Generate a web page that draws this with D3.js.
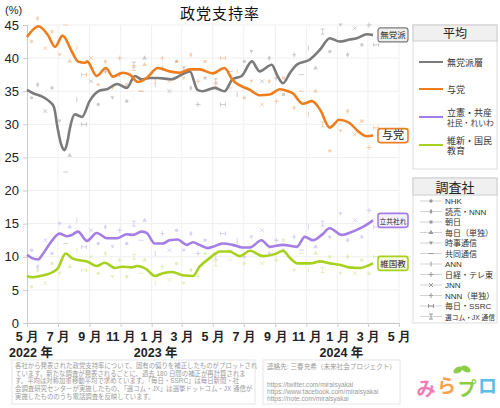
<!DOCTYPE html>
<html>
<head>
<meta charset="utf-8">
<script src="https://cdn.jsdelivr.net/npm/d3@7"></script>
<style>
  body { margin: 0; background: #fff; }
  svg { font-family: "Liberation Sans", Arial, "Noto Sans CJK JP", sans-serif; }
</style>
</head>
<body>
<script>
// ---- data ----
const yTicks = [0, 5, 10, 15, 20, 25, 30, 35, 40, 45];
const xTickDates = ["2022-05-01", "2022-07-01", "2022-09-01", "2022-11-01", "2023-01-01", "2023-03-01",
  "2023-05-01", "2023-07-01", "2023-09-01", "2023-11-01", "2024-01-01", "2024-03-01", "2024-05-01"];
const xTickLabels = ["5 月", "7 月", "9 月", "11 月", "1 月", "3 月", "5 月", "7 月", "9 月", "11 月", "1 月", "3 月", "5 月"];
const yearDates = ["2022-05-01", "2023-01-01", "2024-01-01"];
const yearLabels = ["2022 年", "2023 年", "2024 年"];

const seriesNames = ["無党派層", "与党", "立憲・共産\n社民・れいわ", "維新・国民\n教育"];
const seriesTags = ["無党派", "与党", "立共社れ", "維国教"];

// averaged lines: [date, value]
const mutouha = [["2022-05-01",35.2],["2022-05-13",34.7],["2022-05-31",34.2],["2022-06-15",33.4],["2022-06-23",32.6],
  ["2022-06-30",29.5],["2022-07-07",27.0],["2022-07-14",26.1],["2022-07-20",27.6],["2022-07-24",29.3],["2022-08-03",31.5],
  ["2022-08-17",31.1],["2022-09-01",33.5],["2022-09-21",35.1],["2022-10-05",35.3],["2022-10-25",36.1],["2022-11-13",35.5],
  ["2022-11-29",37.3],["2022-12-12",36.8],["2022-12-28",37.0],["2023-01-13",37.0],["2023-02-09",36.8],["2023-03-01",37.5],
  ["2023-03-17",38.0],["2023-04-01",35.2],["2023-04-11",35.0],["2023-05-05",35.5],["2023-05-24",35.0],["2023-06-09",36.8],
  ["2023-06-27",37.3],["2023-07-17",39.5],["2023-08-01",38.0],["2023-08-25",39.0],["2023-09-04",37.5],["2023-09-16",36.2],
  ["2023-09-30",37.8],["2023-10-13",39.0],["2023-11-08",39.8],["2023-11-28",41.3],["2023-12-17",43.0],["2024-01-05",42.5],
  ["2024-01-25",42.8],["2024-02-08",43.0],["2024-02-28",43.6],["2024-03-11",43.5]];
const yotou = [["2022-05-01",43.2],["2022-05-13",44.3],["2022-05-23",44.8],["2022-06-11",43.5],["2022-06-25",41.7],
  ["2022-07-10",43.4],["2022-07-28",41.0],["2022-08-09",39.5],["2022-08-23",39.3],["2022-08-27",39.5],["2022-09-15",37.3],
  ["2022-10-03",38.5],["2022-10-17",37.2],["2022-11-05",37.8],["2022-11-19",37.5],["2022-12-05",36.4],["2022-12-22",37.0],
  ["2023-01-13",38.5],["2023-02-05",38.0],["2023-02-25",37.8],["2023-03-17",38.3],["2023-04-05",38.3],["2023-05-01",37.7],
  ["2023-05-24",38.5],["2023-06-09",36.7],["2023-07-13",35.2],["2023-08-01",34.4],["2023-08-21",34.5],["2023-09-10",35.3],
  ["2023-09-26",35.0],["2023-10-05",34.7],["2023-10-25",33.1],["2023-11-12",33.5],["2023-11-28",32.2],["2023-12-17",29.5],
  ["2024-01-05",30.7],["2024-01-25",30.2],["2024-02-10",29.0],["2024-02-28",28.2],["2024-03-11",28.3]];
const rikken = [["2022-05-01",10.3],["2022-05-11",9.8],["2022-05-23",9.6],["2022-05-31",10.3],["2022-06-15",12.0],
  ["2022-07-04",13.5],["2022-07-18",13.1],["2022-07-28",13.3],["2022-08-09",13.8],["2022-08-27",12.4],["2022-09-15",13.6],
  ["2022-10-05",12.8],["2022-10-25",12.8],["2022-11-13",13.4],["2022-11-25",13.3],["2022-12-12",13.8],["2022-12-22",13.6],
  ["2023-01-07",12.0],["2023-01-23",12.0],["2023-02-05",12.5],["2023-02-21",12.6],["2023-03-11",11.8],["2023-03-23",12.2],
  ["2023-04-05",11.8],["2023-04-21",11.3],["2023-05-01",11.5],["2023-05-21",12.0],["2023-06-09",11.8],["2023-06-29",11.4],
  ["2023-07-13",11.4],["2023-08-05",12.5],["2023-08-21",11.5],["2023-09-16",11.8],["2023-10-13",11.5],["2023-10-29",13.0],
  ["2023-11-14",12.5],["2023-12-01",13.3],["2023-12-17",14.3],["2024-01-09",13.3],["2024-01-31",13.8],["2024-02-20",14.5],
  ["2024-03-11",15.5]];
const ishin = [["2022-05-01",7.1],["2022-05-11",6.9],["2022-05-27",7.1],["2022-06-21",7.7],["2022-06-30",8.2],
  ["2022-07-16",10.5],["2022-07-28",9.8],["2022-08-09",9.5],["2022-08-27",9.3],["2022-09-15",8.6],["2022-10-01",9.1],
  ["2022-10-21",8.3],["2022-11-03",8.5],["2022-11-23",8.4],["2022-12-03",8.6],["2022-12-22",8.1],["2023-01-07",7.1],
  ["2023-01-23",7.5],["2023-02-11",7.7],["2023-03-03",7.2],["2023-03-23",7.1],["2023-04-05",8.5],["2023-04-25",9.8],
  ["2023-05-15",10.8],["2023-06-03",10.8],["2023-06-23",10.1],["2023-07-13",10.9],["2023-08-07",10.1],["2023-08-31",10.4],
  ["2023-09-16",10.9],["2023-09-30",9.8],["2023-10-15",9.0],["2023-11-08",9.0],["2023-11-28",9.3],["2023-12-17",9.0],
  ["2024-01-05",8.8],["2024-01-25",8.4],["2024-02-14",8.3],["2024-03-05",8.8],["2024-03-11",9.0]];
const averages = [mutouha, yotou, rikken, ishin];

// individual surveys (bias corrected): date, company index, value per series
const surveyDates = ["2022-05-10","2022-05-22","2022-06-06","2022-06-19","2022-07-04","2022-07-16","2022-07-24","2022-08-07",
  "2022-08-21","2022-09-04","2022-09-18","2022-10-02","2022-10-16","2022-10-30","2022-11-13","2022-11-27","2022-12-11",
  "2022-12-18","2023-01-08","2023-01-22","2023-02-05","2023-02-19","2023-03-05","2023-03-19","2023-04-02","2023-04-16",
  "2023-05-07","2023-05-21","2023-06-04","2023-06-18","2023-07-02","2023-07-16","2023-08-06","2023-08-20","2023-09-03",
  "2023-09-17","2023-10-08","2023-10-22","2023-11-05","2023-11-19","2023-12-03","2023-12-17","2024-01-07","2024-01-21",
  "2024-02-04","2024-02-18","2024-03-03","2024-03-17"];
const surveyCompany = [0,1,8,2,4,5,3,6,10,8,0,1,4,7,2,11,5,3,6,9,8,0,4,1,7,2,11,10,5,6,0,4,8,1,7,2,9,5,6,3,11,0,4,1,8,2,7,10];
const surveyMutouha = [34.0,36.0,32.0,35.5,30.5,22.8,25.3,33.8,30.0,36.5,33.0,38.0,34.0,37.5,33.5,39.0,35.0,40.0,36.0,38.5,
  35.0,39.5,38.5,35.5,33.0,37.0,36.5,33.0,38.0,34.5,39.5,41.0,36.5,40.0,37.0,34.5,40.5,37.5,41.5,38.5,44.0,41.0,45.0,40.5,
  44.5,42.0,45.0,42.0];
const surveyYotou = [42.5,46.0,41.5,44.0,40.5,45.0,39.5,41.5,37.5,40.0,36.0,39.5,35.5,40.0,36.0,38.5,35.0,39.0,36.5,40.0,
  36.5,39.5,37.0,40.5,36.5,39.5,36.0,40.0,35.5,38.0,34.0,36.5,33.0,36.5,33.5,37.0,32.5,35.0,31.5,35.0,30.0,26.0,29.0,32.0,
  28.5,30.5,26.5,29.5];
const surveyRikken = [11.0,8.5,12.5,10.5,15.0,12.0,14.5,15.5,11.5,14.0,12.0,14.5,11.5,14.0,12.0,15.0,12.5,15.5,10.5,13.5,
  11.0,14.0,11.0,13.5,10.5,12.5,10.0,13.5,11.0,12.5,10.0,13.0,14.0,10.5,12.5,11.0,13.0,11.0,14.5,11.5,15.0,13.0,16.5,12.5,
  15.5,13.0,17.0,14.5];
const surveyIshin = [5.5,8.0,6.0,9.0,7.5,12.0,8.5,11.0,8.0,10.0,7.5,10.5,7.0,9.5,7.0,10.0,7.5,9.5,6.0,8.5,6.5,9.0,6.0,8.0,
  7.0,10.5,9.0,12.0,9.5,12.0,9.0,11.5,9.0,11.5,9.5,12.5,8.0,10.5,8.0,10.5,8.0,10.0,7.5,10.0,7.5,9.5,7.5,10.0];
const surveyValues = [surveyMutouha, surveyYotou, surveyRikken, surveyIshin];

const companies = ["NHK", "読売・NNN", "朝日", "毎日（単独）", "時事通信", "共同通信", "ANN", "日経・テレ東", "JNN",
  "NNN（単独）", "毎日・SSRC", "選コム・JX 通信"];

// ---- styling ----
const lineColors = ["#7b7b7b", "#ef7d1e", "#a47de6", "#a6d21e"];
const dotColors = ["#b0b0b0", "#f5b786", "#cbb7f2", "#d3ea94"];
const tagFills = ["#eeeeee", "#ffffff", "#f6f0fd", "#f5fbe0"];
const W = 500, H = 408;
const parse = d3.timeParse("%Y-%m-%d");

// shrink a text so it stays inside maxW
function fit(sel, maxW) {
  sel.each(function () {
    if (this.getComputedTextLength() > maxW) {
      d3.select(this).attr("textLength", maxW).attr("lengthAdjust", "spacingAndGlyphs");
    }
  });
}

const svg = d3.select("body").append("svg").attr("width", W).attr("height", H);

const x = d3.scaleTime().domain([parse("2022-05-01"), parse("2024-05-01")]).range([27, 399]);
const y = d3.scaleLinear().domain([0, 45]).range([323, 25]);

// grid
svg.append("g").selectAll("line").data(yTicks).join("line")
  .attr("x1", 27).attr("x2", 399).attr("y1", d => y(d)).attr("y2", d => y(d))
  .attr("stroke", "#efefef");
svg.append("g").selectAll("line").data(xTickDates.slice(1)).join("line")
  .attr("x1", d => x(parse(d))).attr("x2", d => x(parse(d))).attr("y1", y(45)).attr("y2", y(0))
  .attr("stroke", "#efefef");

// axes
const yAxis = svg.append("g").attr("transform", "translate(27,0)")
  .call(d3.axisLeft(y).tickValues(yTicks).tickSize(4).tickPadding(4));
yAxis.select(".domain").attr("stroke", "#ccc");
yAxis.selectAll(".tick line").attr("stroke", "#ccc");
yAxis.selectAll("text").attr("font-size", 13).attr("fill", "#222");

const xAxis = svg.append("g").attr("transform", "translate(0,323)")
  .call(d3.axisBottom(x).tickValues(xTickDates.map(parse)).tickSize(4).tickPadding(5)
    .tickFormat((d, i) => xTickLabels[i]));
xAxis.select(".domain").attr("stroke", "#ccc");
xAxis.selectAll(".tick line").attr("stroke", "#ccc");
xAxis.selectAll("text").attr("font-size", 12.5).attr("fill", "#222").attr("font-weight", "bold");

svg.append("g").selectAll("text").data(yearDates).join("text")
  .attr("x", d => x(parse(d)) + 4).attr("y", 357).attr("text-anchor", "middle")
  .attr("font-size", 12.5).attr("fill", "#222").attr("font-weight", "bold")
  .text((d, i) => yearLabels[i]);

// marker shapes per company
const symPath = [
  d3.symbol(d3.symbolCircle, 9)(),
  d3.symbol(d3.symbolDiamond, 9)(),
  d3.symbol(d3.symbolSquare, 9)(),
  d3.symbol(d3.symbolTriangle, 10)(),
  "M-2,-1.5L2,-1.5L0,2Z",
  "M-2.5,0H2.5",
  "M0,-2.5V2.5",
  "M-2.5,0H2.5M0,-2.5V2.5",
  "M-2,-2L2,2M-2,2L2,-2",
  "M-2,0H2M0,-2.5V2.5",
  "M-2.5,-2V2M2.5,-2V2M-2.5,0H2.5",
  "M-2,-2.5H2M0,-2.5V2.5M-2,2.5H2"
];
const filled = [true, true, true, true, true, false, false, false, false, false, false, false];

// survey scatter
surveyValues.forEach((vals, s) => {
  svg.append("g").selectAll("path").data(vals).join("path")
    .attr("transform", (v, i) => `translate(${x(parse(surveyDates[i]))},${y(v)})`)
    .attr("d", (v, i) => symPath[surveyCompany[i]])
    .attr("fill", (v, i) => filled[surveyCompany[i]] ? dotColors[s] : "none")
    .attr("stroke", (v, i) => filled[surveyCompany[i]] ? "none" : dotColors[s])
    .attr("stroke-width", 1).attr("opacity", 0.65);
});

// averaged lines
const line = d3.line().x(d => x(parse(d[0]))).y(d => y(d[1])).curve(d3.curveMonotoneX);
averages.forEach((data, s) => {
  svg.append("path").datum(data).attr("d", line)
    .attr("fill", "none").attr("stroke", lineColors[s]).attr("stroke-width", 2.6)
    .attr("stroke-linejoin", "round");
});

// end tags
averages.forEach((data, s) => {
  const last = data[data.length - 1];
  const cy = y(last[1]);
  const g = svg.append("g").attr("transform", `translate(378,${cy})`);
  g.append("rect").attr("x", 0).attr("y", -7).attr("width", 30).attr("height", 14).attr("rx", 2.5)
    .attr("fill", tagFills[s]).attr("stroke", lineColors[s]).attr("stroke-width", s === 0 ? 1.2 : 1.6);
  g.append("text").attr("x", 15).attr("y", 3.5).attr("text-anchor", "middle")
    .attr("font-size", s === 1 ? 11 : (s === 2 ? 7 : 8.5)).attr("fill", "#222").text(seriesTags[s])
    .call(fit, 27);
});

// title
svg.append("text").attr("x", 220).attr("y", 19).attr("text-anchor", "middle")
  .attr("font-size", 15).attr("fill", "#111").attr("letter-spacing", 1).text("政党支持率");
svg.append("text").attr("x", 5).attr("y", 14).attr("font-size", 11).attr("fill", "#222").text("(%)");

// legend: averages
const lg = svg.append("g");
lg.append("rect").attr("x", 413).attr("y", 25).attr("width", 84).attr("height", 144)
  .attr("fill", "#fff").attr("stroke", "#ddd");
lg.append("rect").attr("x", 413).attr("y", 25).attr("width", 84).attr("height", 16)
  .attr("fill", "#f0f0f0").attr("stroke", "#ccc");
lg.append("text").attr("x", 455).attr("y", 37.5).attr("text-anchor", "middle")
  .attr("font-size", 12).attr("fill", "#222").text("平均");
const legY = [62, 89, 117, 145];
seriesNames.forEach((name, s) => {
  lg.append("line").attr("x1", 419).attr("x2", 443).attr("y1", legY[s]).attr("y2", legY[s])
    .attr("stroke", lineColors[s]).attr("stroke-width", 2);
  const parts = name.split("\n");
  parts.forEach((p, k) => {
    lg.append("text").attr("x", 447)
      .attr("y", legY[s] + 3.5 + (parts.length > 1 ? (k === 0 ? -5 : 5) : 0))
      .attr("font-size", p.length > 5 ? 7.8 : 9).attr("fill", "#333").text(p)
      .call(fit, 47);
  });
});

// legend: companies
const cg = svg.append("g");
cg.append("rect").attr("x", 413).attr("y", 178).attr("width", 84).attr("height", 145)
  .attr("fill", "#fff").attr("stroke", "#ddd");
cg.append("rect").attr("x", 413).attr("y", 178).attr("width", 84).attr("height", 17)
  .attr("fill", "#f0f0f0").attr("stroke", "#ccc");
cg.append("text").attr("x", 455).attr("y", 191.5).attr("text-anchor", "middle")
  .attr("font-size", 13).attr("fill", "#222").text("調査社");
companies.forEach((c, i) => {
  const cy = 201 + i * 10.5;
  cg.append("line").attr("x1", 420).attr("x2", 442).attr("y1", cy).attr("y2", cy)
    .attr("stroke", "#c8c8c8").attr("stroke-width", 0.8);
  cg.append("path").attr("transform", `translate(431,${cy})`).attr("d", symPath[i])
    .attr("fill", filled[i] ? "#999" : "#fff").attr("stroke", filled[i] ? "none" : "#999").attr("stroke-width", 1);
  cg.append("text").attr("x", 445).attr("y", cy + 3).attr("font-size", c.length > 8 ? 7 : 8).attr("fill", "#333").text(c)
    .call(fit, 50);
});

// footer notes
const notes = [
  "各社から発表された政党支持率について、固有の偏りを補正したものがプロットされ",
  "ています。新たな調査が発表されるごとに、過去 180 日間の補正が再計算されま",
  "す。平均は対称加重移動平均で求めています。「毎日・SSRC」は毎日新聞・社",
  "会調査研究センターが実施したもの、「選コム・JX」は選挙ドットコム・JX 通信が",
  "実施したもののうち電話調査を反映しています。"
];
svg.append("rect").attr("x", 12).attr("y", 360).attr("width", 243).attr("height", 44)
  .attr("fill", "none").attr("stroke", "#e6e6e6");
svg.append("g").selectAll("text").data(notes).join("text")
  .attr("x", 15).attr("y", (d, i) => 368 + i * 7.7).attr("font-size", 6.4).attr("fill", "#9a9a9a")
  .text(d => d);

const contacts = ["連絡先: 三春充希（未来社会プロジェクト）", "", "https://twitter.com/miraisyakai",
  "https://www.facebook.com/miraisyakai", "https://note.com/miraisyakai"];
svg.append("rect").attr("x", 263).attr("y", 360).attr("width", 137).attr("height", 44)
  .attr("fill", "none").attr("stroke", "#e6e6e6");
svg.append("g").selectAll("text").data(contacts).join("text")
  .attr("x", 267).attr("y", (d, i) => 369 + (i === 0 ? 0 : 4 + i * 7)).attr("font-size", 6.6).attr("fill", "#9a9a9a")
  .text(d => d);

// logo
const logoChars = ["み", "ら", "プ", "ロ"];
const logoColors = ["#f27bb5", "#f7a24a", "#8ccd4a", "#5bbde8"];
const logo = svg.append("g").attr("font-size", 19).attr("font-weight", "bold");
logo.append("ellipse").attr("cx", 458).attr("cy", 370).attr("rx", 5).attr("ry", 3)
  .attr("fill", "#8ccd4a").attr("transform", "rotate(-30,458,370)");
logo.append("ellipse").attr("cx", 466).attr("cy", 369).attr("rx", 5).attr("ry", 3)
  .attr("fill", "#8ccd4a").attr("transform", "rotate(30,466,369)");
logoChars.forEach((ch, i) => {
  logo.append("text").attr("x", 426 + i * 20.5).attr("y", 396 - (i % 2) * 3).attr("text-anchor", "middle")
    .attr("fill", logoColors[i]).attr("stroke", "#fff").attr("stroke-width", 0.8)
    .attr("paint-order", "stroke").text(ch);
});
</script>
</body>
</html>
